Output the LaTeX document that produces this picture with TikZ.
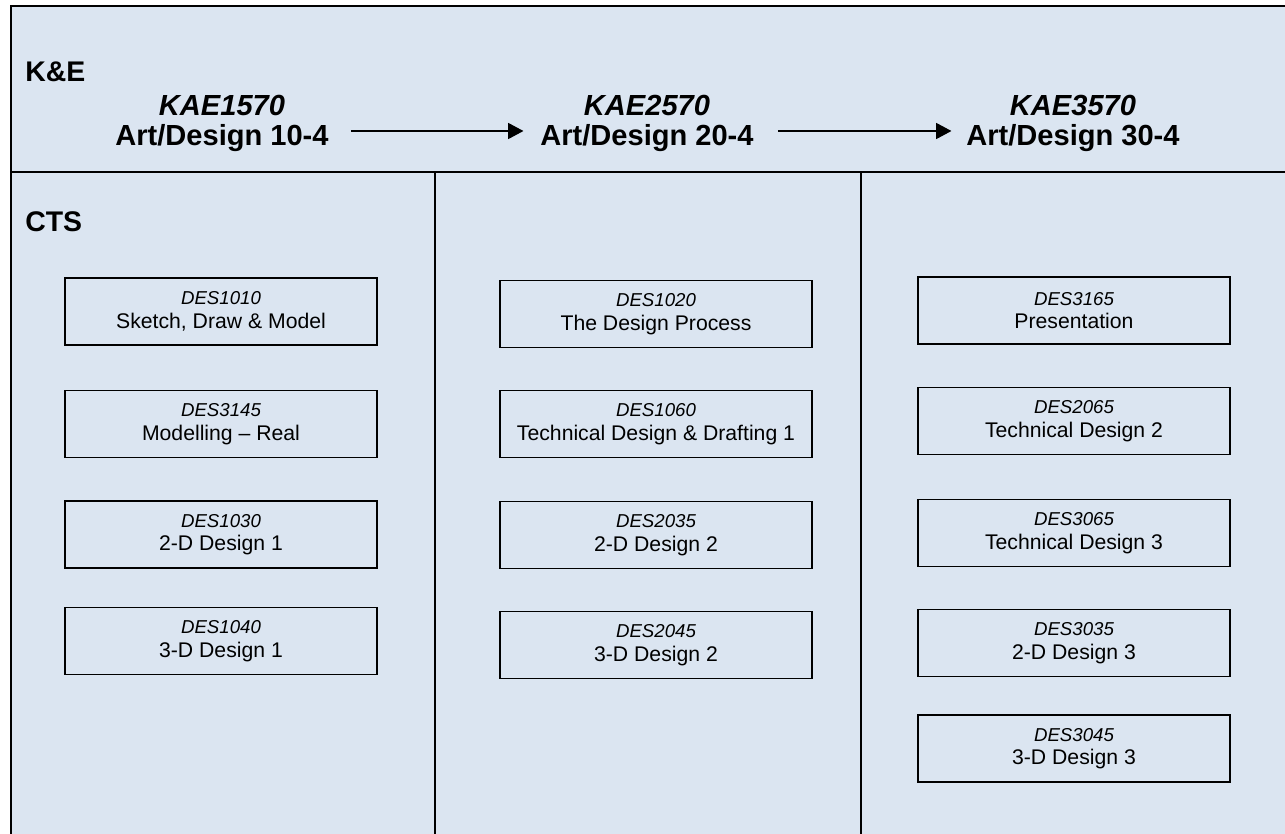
\documentclass[tikz,border=0pt]{standalone}
\usepackage{fontspec}
\setmainfont{Liberation Sans}
\usetikzlibrary{arrows.meta}
\definecolor{panel}{HTML}{DBE5F1}
\tikzset{
  frame/.style={line width=1.5pt, draw=black},
  hdr/.style={font=\fontsize{21.8pt}{24pt}\selectfont\bfseries, inner sep=0pt, anchor=base},
  lbl/.style={font=\fontsize{21.3pt}{24pt}\selectfont\bfseries, inner sep=0pt, anchor=base west},
  course/.style={draw=black, line width=1.1pt, fill=panel, minimum width=234pt, minimum height=50.25pt,
    inner sep=0pt, align=center, font=\fontsize{15.9pt}{17.6pt}\selectfont},
  arr/.style={line width=1.1pt, -{Triangle[length=11.5pt, width=12pt]}}
}
\newcommand{\code}[1]{{\fontsize{14pt}{17.6pt}\selectfont\itshape #1}}
\begin{document}
\begin{tikzpicture}[x=0.75pt, y=-0.75pt]
\useasboundingbox (0,0) rectangle (1285,834);
\fill[white] (0,0) rectangle (1285,834);
\fill[panel] (10.5,6) rectangle (1290,840);
\draw[frame] (1290,6) -- (10.5,6) -- (10.5,840);
\draw[frame] (10.5,172.5) -- (1290,172.5);
\draw[frame] (435,172.5) -- (435,840);
\draw[frame] (861,172.5) -- (861,840);

\node[lbl] (ke) at (25,82) {K\&E};
\node[lbl] (cts) at (25,232) {CTS};

\node[hdr] (k1) at (222,116) {\itshape KAE1570};
\node[hdr] (n1) at (222,146) {Art/Design 10-4};
\node[hdr] (k2) at (647,116) {\itshape KAE2570};
\node[hdr] (n2) at (647,146) {Art/Design 20-4};
\node[hdr] (k3) at (1073,116) {\itshape KAE3570};
\node[hdr] (n3) at (1073,146) {Art/Design 30-4};

\draw[arr] ([xshift=16.5pt]n1.east |- 0,131) -- ([xshift=-12.5pt]n2.west |- 0,131);
\draw[arr] ([xshift=18pt]n2.east |- 0,131) -- ([xshift=-11pt]n3.west |- 0,131);

\node[course] (a1) at (221,311.5) {\code{DES1010}\\Sketch, Draw \& Model};
\node[course] (a2) at (221,424) {\code{DES3145}\\Modelling – Real};
\node[course] (a3) at (221,534.5) {\code{DES1030}\\2-D Design 1};
\node[course] (a4) at (221,641) {\code{DES1040}\\3-D Design 1};

\node[course] (b1) at (656,314) {\code{DES1020}\\The Design Process};
\node[course] (b2) at (656,424) {\code{DES1060}\\Technical Design \& Drafting 1};
\node[course] (b3) at (656,535) {\code{DES2035}\\2-D Design 2};
\node[course] (b4) at (656,645) {\code{DES2045}\\3-D Design 2};

\node[course] (c1) at (1074,310.5) {\code{DES3165}\\Presentation};
\node[course] (c2) at (1074,421) {\code{DES2065}\\Technical Design 2};
\node[course] (c3) at (1074,533) {\code{DES3065}\\Technical Design 3};
\node[course] (c4) at (1074,643) {\code{DES3035}\\2-D Design 3};
\node[course] (c5) at (1074,748.5) {\code{DES3045}\\3-D Design 3};
\end{tikzpicture}
\end{document}
